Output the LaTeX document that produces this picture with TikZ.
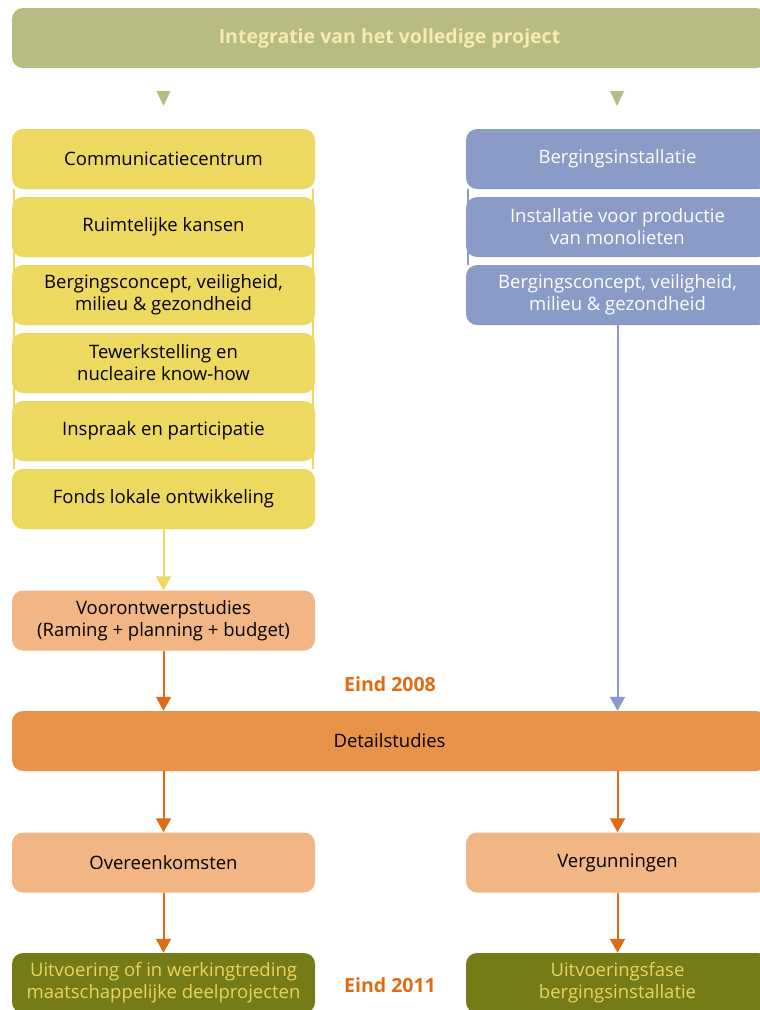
\documentclass[tikz,border=0pt]{standalone}
\usepackage{fontspec}
\setmainfont{Open Sans}
\usetikzlibrary{arrows.meta,calc}
\definecolor{topolive}{HTML}{B8BB83}
\definecolor{toptext}{HTML}{F8EBB0}
\definecolor{yel}{HTML}{EDD960}
\definecolor{blu}{HTML}{8A9BC7}
\definecolor{lorange}{HTML}{F2B584}
\definecolor{dorange}{HTML}{E9924A}
\definecolor{arrorange}{HTML}{E06B12}
\definecolor{dolive}{HTML}{757C17}
\definecolor{dolivetext}{HTML}{E9D55E}
\begin{document}
\begin{tikzpicture}[x=1pt,y=-1pt,
  box/.style={rounded corners=11pt, minimum height=60pt, inner sep=0pt, align=center,
    font=\fontsize{18.5}{22}\selectfont, text=black},
  ybox/.style={box, fill=yel, minimum width=303pt},
  bbox/.style={box, fill=blu, minimum width=303pt, text=white},
  obox/.style={box, fill=lorange, minimum width=303pt},
  gbox/.style={box, fill=dolive, minimum width=303pt, text=dolivetext},
  widebox/.style={box, minimum width=755pt},
  con/.style={line width=2pt, -{Triangle[width=15pt,length=14pt]}},
  eind/.style={font=\bfseries\fontsize{19.5}{22}\selectfont, text=arrorange},
]
\useasboundingbox (0,0) rectangle (760,1010);
\clip (0,0) rectangle (760,1010);

% top bar
\node[widebox, fill=topolive, text=toptext, font=\bfseries\fontsize{19.5}{22}\selectfont] (top) at (389.5,38) {Integratie van het volledige project};
\fill[topolive] (156.5,91) -- (170.5,91) -- (163.5,106) -- cycle;
\fill[topolive] (610,91) -- (624,91) -- (617,106) -- cycle;

% left stack
\node[ybox] (l1) at (163.5,159) {Communicatiecentrum};
\node[ybox] (l2) at (163.5,227) {Ruimtelijke kansen};
\node[ybox] (l3) at (163.5,295) {Bergingsconcept, veiligheid,\\milieu \& gezondheid};
\node[ybox] (l4) at (163.5,363) {Tewerkstelling en\\nucleaire know-how};
\node[ybox] (l5) at (163.5,431) {Inspraak en participatie};
\node[ybox] (l6) at (163.5,499) {Fonds lokale ontwikkeling};
\draw[yel, line width=1.5pt] ($(l1.south west)+(2,0)$) -- ($(l6.north west)+(2,0)$);
\draw[yel, line width=1.5pt] ($(l1.south east)+(-2,0)$) -- ($(l6.north east)+(-2,0)$);

% right stack
\node[bbox] (r1) at (617.5,159) {Bergingsinstallatie};
\node[bbox] (r2) at (617.5,227) {Installatie voor productie\\van monolieten};
\node[bbox] (r3) at (617.5,295) {Bergingsconcept, veiligheid,\\milieu \& gezondheid};
\draw[blu, line width=1.5pt] ($(r1.south west)+(2,0)$) -- ($(r3.north west)+(2,0)$);

% middle
\node[obox] (voor) at (163.5,620.5) {Voorontwerpstudies\\(Raming + planning + budget)};
\node[widebox, fill=dorange] (detail) at (389.5,741) {Detailstudies};
\node[eind] (e1) at (390,684) {Eind 2008};

\node[obox] (over) at (163.5,862.5) {Overeenkomsten};
\node[obox] (verg) at (617.5,862.5) {Vergunningen};
\node[gbox] (uitl) at (163.5,983) {Uitvoering of in werkingtreding\\maatschappelijke deelprojecten};
\node[gbox] (uitr) at (617.5,983) {Uitvoeringsfase\\bergingsinstallatie};
\node[eind] (e2) at (390,985) {Eind 2011};

% connectors
\draw[con, yel] (l6.south) -- (voor.north);
\draw[con, blu] (r3.south) -- (r3.south |- detail.north);
\draw[con, arrorange] (voor.south) -- (voor.south |- detail.north);
\draw[con, arrorange] (over.north |- detail.south) -- (over.north);
\draw[con, arrorange] (verg.north |- detail.south) -- (verg.north);
\draw[con, arrorange] (over.south) -- (uitl.north);
\draw[con, arrorange] (verg.south) -- (uitr.north);
\end{tikzpicture}
\end{document}
